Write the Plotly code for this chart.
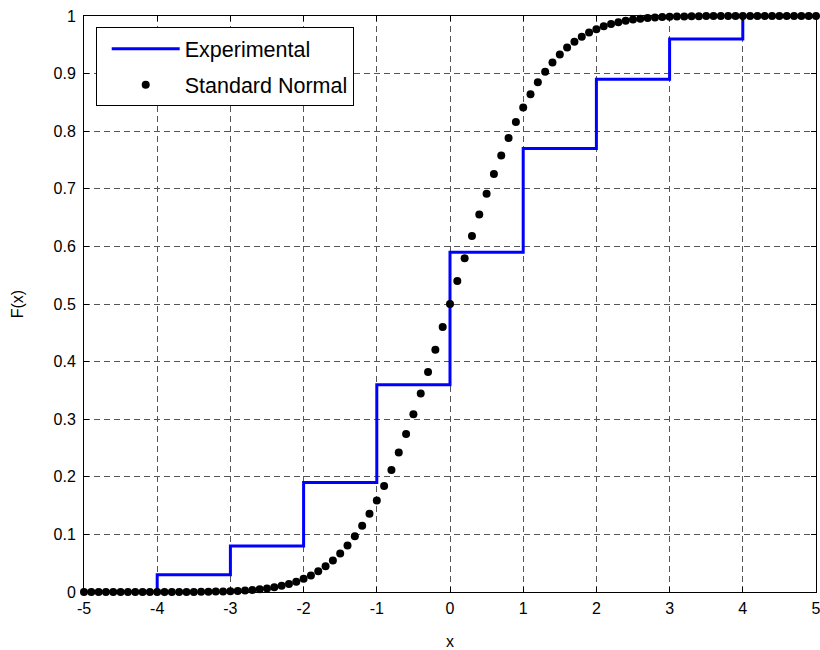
import plotly.graph_objects as go

# Experimental empirical CDF (stairs)
exp_x = [-5, -4, -3, -2, -1, 0, 1, 2, 3, 4, 5]
exp_y = [0.0, 0.03, 0.08, 0.19, 0.36, 0.59, 0.77, 0.89, 0.96, 1.0, 1.0]

# Standard normal CDF samples
norm_x = [-5.0, -4.9, -4.8, -4.7, -4.6, -4.5, -4.4, -4.3, -4.2, -4.1,
          -4.0, -3.9, -3.8, -3.7, -3.6, -3.5, -3.4, -3.3, -3.2, -3.1,
          -3.0, -2.9, -2.8, -2.7, -2.6, -2.5, -2.4, -2.3, -2.2, -2.1,
          -2.0, -1.9, -1.8, -1.7, -1.6, -1.5, -1.4, -1.3, -1.2, -1.1,
          -1.0, -0.9, -0.8, -0.7, -0.6, -0.5, -0.4, -0.3, -0.2, -0.1,
          0.0, 0.1, 0.2, 0.3, 0.4, 0.5, 0.6, 0.7, 0.8, 0.9,
          1.0, 1.1, 1.2, 1.3, 1.4, 1.5, 1.6, 1.7, 1.8, 1.9,
          2.0, 2.1, 2.2, 2.3, 2.4, 2.5, 2.6, 2.7, 2.8, 2.9,
          3.0, 3.1, 3.2, 3.3, 3.4, 3.5, 3.6, 3.7, 3.8, 3.9,
          4.0, 4.1, 4.2, 4.3, 4.4, 4.5, 4.6, 4.7, 4.8, 4.9, 5.0]
norm_y = [0.0000, 0.0000, 0.0000, 0.0000, 0.0000, 0.0000, 0.0000, 0.0000, 0.0000, 0.0000,
          0.0000, 0.0000, 0.0001, 0.0001, 0.0002, 0.0002, 0.0003, 0.0005, 0.0007, 0.0010,
          0.0013, 0.0019, 0.0026, 0.0035, 0.0047, 0.0062, 0.0082, 0.0107, 0.0139, 0.0179,
          0.0228, 0.0287, 0.0359, 0.0446, 0.0548, 0.0668, 0.0808, 0.0968, 0.1151, 0.1357,
          0.1587, 0.1841, 0.2119, 0.2420, 0.2743, 0.3085, 0.3446, 0.3821, 0.4207, 0.4602,
          0.5000, 0.5398, 0.5793, 0.6179, 0.6554, 0.6915, 0.7257, 0.7580, 0.7881, 0.8159,
          0.8413, 0.8643, 0.8849, 0.9032, 0.9192, 0.9332, 0.9452, 0.9554, 0.9641, 0.9713,
          0.9772, 0.9821, 0.9861, 0.9893, 0.9918, 0.9938, 0.9953, 0.9965, 0.9974, 0.9981,
          0.9987, 0.9990, 0.9993, 0.9995, 0.9997, 0.9998, 0.9998, 0.9999, 0.9999, 1.0000,
          1.0000, 1.0000, 1.0000, 1.0000, 1.0000, 1.0000, 1.0000, 1.0000, 1.0000, 1.0000, 1.0000]

x_ticks = [-5, -4, -3, -2, -1, 0, 1, 2, 3, 4, 5]
y_ticks = [0, 0.1, 0.2, 0.3, 0.4, 0.5, 0.6, 0.7, 0.8, 0.9, 1]
y_tick_labels = ["0", "0.1", "0.2", "0.3", "0.4", "0.5", "0.6", "0.7", "0.8", "0.9", "1"]

FONT = "Liberation Sans, Arial, Helvetica, sans-serif"

fig = go.Figure()
fig.add_trace(go.Scatter(
    x=exp_x, y=exp_y, mode="lines", name="Experimental",
    line=dict(color="#0000FF", width=3, shape="hv"),
    legendgroup="a",
))
fig.add_trace(go.Scatter(
    x=norm_x, y=norm_y, mode="markers", name="Standard Normal",
    marker=dict(color="black", size=8),
    cliponaxis=False, legendgroup="b",
))

axis_common = dict(
    showline=True, linecolor="black", linewidth=1, mirror="ticks",
    ticks="inside", ticklen=5, tickcolor="black", tickwidth=1,
    showgrid=True, gridcolor="#555555", gridwidth=1, griddash="6px,4px",
    zeroline=False, ticklabeloverflow="allow",
    tickfont=dict(family=FONT, size=16, color="black"),
)

fig.update_xaxes(
    range=[-5, 5], tickvals=x_ticks, ticktext=[str(v) for v in x_ticks],
    title=dict(text="x", font=dict(family=FONT, size=16, color="black"), standoff=20),
    ticklabelstandoff=2,
    **axis_common,
)
fig.update_yaxes(
    range=[0, 1], tickvals=y_ticks, ticktext=y_tick_labels,
    title=dict(text="F(x)", font=dict(family=FONT, size=16, color="black"), standoff=25),
    ticklabelstandoff=4,
    **axis_common,
)

fig.update_layout(
    width=820, height=650,
    margin=dict(l=84, r=4, t=16, b=58, autoexpand=False),
    paper_bgcolor="white", plot_bgcolor="white",
    showlegend=True,
    legend=dict(
        x=0.016, y=0.9804, xanchor="left", yanchor="top",
        bgcolor="white", bordercolor="black", borderwidth=1,
        font=dict(family=FONT, size=21.5, color="black"),
        itemwidth=68, indentation=10, tracegroupgap=5, traceorder="grouped",
    ),
)

fig.write_html(
    "out.html",
    config={"displayModeBar": False},
    post_script=(
        "document.body.style.margin='0px';"
        "document.body.style.overflow='hidden';"
        "document.documentElement.style.overflow='hidden';"
    ),
)
